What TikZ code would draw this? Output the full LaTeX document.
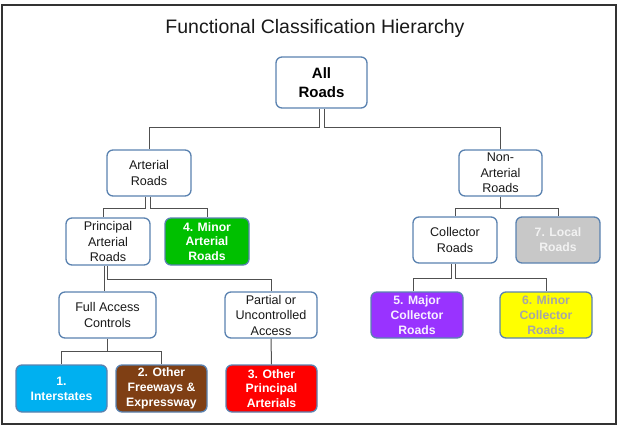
\documentclass[tikz,border=0pt]{standalone}
\usepackage{fontspec}
\setmainfont{Liberation Sans}
\definecolor{bordc}{HTML}{5A82B0}
\definecolor{connc}{HTML}{505050}
\definecolor{cgreen}{HTML}{00C000}
\definecolor{ccyan}{HTML}{00B0F0}
\definecolor{cbrown}{HTML}{7F3F14}
\definecolor{cred}{HTML}{FF0000}
\definecolor{cpurple}{HTML}{9933FF}
\definecolor{cyellow}{HTML}{FFFF00}
\definecolor{cgray}{HTML}{C8C8C8}
\definecolor{ytext}{HTML}{A6A6A6}
\begin{document}
\begin{tikzpicture}[x=1pt,y=-1pt,
  box/.style={draw=bordc, line width=1.3pt, rounded corners=6pt, align=center,
    inner sep=1pt, font=\fontsize{12.6}{15.5}\selectfont, text=black!90},
  wbox/.style={box, fill=white},
  cbox/.style={box, font=\fontsize{12.2}{14.8}\selectfont\bfseries, text=white},
  conn/.style={draw=connc, line width=1pt}]
\useasboundingbox (0,0) rectangle (618,425);
\draw[draw=black!80, line width=2pt] (1.5,5.5) rectangle (616,423.5);

\node[font=\fontsize{19.5}{22}\selectfont, text=black!90] (title) at (315,28) {Functional Classification Hierarchy};

\node[wbox, minimum width=91pt, minimum height=51pt, font=\fontsize{15}{19}\selectfont\bfseries, text=black] (all) at (321.5,82.5) {All\\Roads};

\node[wbox, minimum width=84pt, minimum height=46pt] (art) at (149,173) {Arterial\\Roads};
\node[wbox, minimum width=83pt, minimum height=46pt] (non) at (500.5,173) {Non-\\Arterial\\Roads};

\node[wbox, minimum width=84pt, minimum height=47pt] (pri) at (108,241.5) {Principal\\Arterial\\Roads};
\node[cbox, fill=cgreen, minimum width=84pt, minimum height=47pt] (min4) at (207,241.5) {4. Minor\\Arterial\\Roads};

\node[wbox, minimum width=84pt, minimum height=46pt] (col) at (455,240) {Collector\\Roads};
\node[cbox, fill=cgray, text=white!95!black, minimum width=84pt, minimum height=46pt] (loc7) at (558,240) {7. Local\\Roads};

\node[wbox, minimum width=97pt, minimum height=46pt] (full) at (107.5,315) {Full Access\\Controls};
\node[wbox, minimum width=92pt, minimum height=46pt] (part) at (271,315) {Partial or\\Uncontrolled\\Access};

\node[cbox, fill=cpurple, text=white!92!cpurple, minimum width=92pt, minimum height=46pt] (maj5) at (417,315) {5. Major\\Collector\\Roads};
\node[cbox, fill=cyellow, text=ytext, minimum width=92pt, minimum height=46pt] (min6) at (546,315) {6. Minor\\Collector\\Roads};

\node[cbox, fill=ccyan, minimum width=91pt, minimum height=47pt] (i1) at (61.5,388.5) {1.\\Interstates};
\node[cbox, fill=cbrown, minimum width=91pt, minimum height=47pt] (o2) at (161.5,388.5) {2. Other\\Freeways \&\\Expressway};
\node[cbox, fill=cred, minimum width=91pt, minimum height=47pt] (o3) at (271.5,388.5) {3. Other\\Principal\\Arterials};

% connectors
\draw[conn] ([xshift=-2.5pt]all.south) -- ++(0,19) -| (art.north);
\draw[conn] ([xshift=2.5pt]all.south) -- ++(0,19) -| (non.north);

\draw[conn] ([xshift=-4pt]art.south) -- ++(0,11.5) -| ([xshift=-5pt]pri.north);
\draw[conn] ([xshift=1pt]art.south) -- ++(0,11.5) -| (min4.north);

\draw[conn] ([xshift=-4pt]pri.south) -- ([xshift=-3.5pt]full.north);
\draw[conn] ([xshift=-1pt]pri.south) -- ++(0,14) -| (part.north);

\draw[conn] (full.south) -- ++(0,13) coordinate (fb) -| (i1.north);
\draw[conn] (fb) -| (o2.north);
\draw[conn] (part.south) -- (o3.north);

\draw[conn] (non.south) -- ++(0,11.5) coordinate (nb) -| (col.north);
\draw[conn] (nb) -| (loc7.north);

\draw[conn] ([xshift=-4pt]col.south) -- ++(0,15) -| ([xshift=-4pt]maj5.north);
\draw[conn] (col.south) -- ++(0,15) -| (min6.north);
\end{tikzpicture}
\end{document}
